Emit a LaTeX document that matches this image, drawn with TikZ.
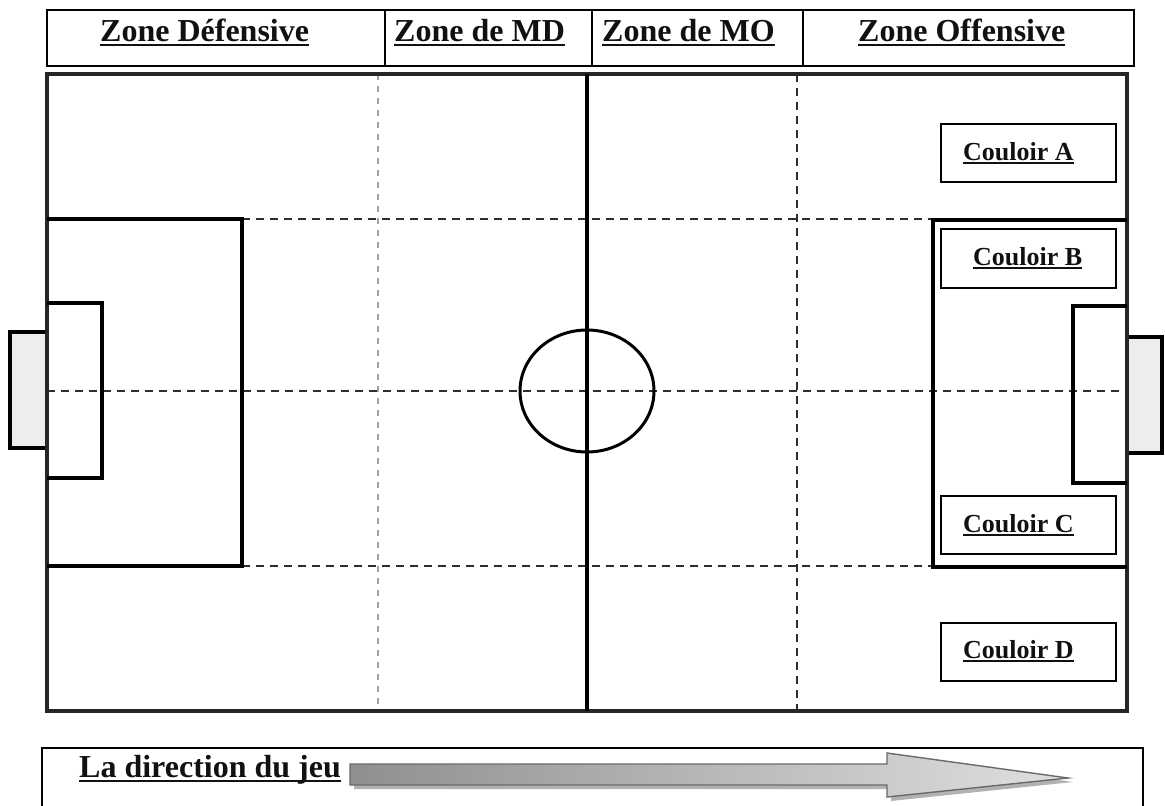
\documentclass[tikz,border=0pt]{standalone}
\usepackage{fontspec}
\setmainfont{Liberation Serif}
\usepackage{xcolor}
\usepackage{tikz}
\usetikzlibrary{positioning,calc}
\definecolor{ink}{HTML}{111111}
\definecolor{pitch}{HTML}{262626}
\definecolor{dsh}{HTML}{2E2E2E}
\definecolor{dshL}{HTML}{A0A0A0}
\definecolor{goalL}{HTML}{EDEDED}
\definecolor{arrD}{HTML}{6A6A6A}
\definecolor{arrL}{HTML}{D8D8D8}
\newcommand\ulb[1]{\setbox0=\hbox{#1}\rlap{\rule[-0.165em]{\wd0}{0.085em}}\box0}
\tikzset{
  field/.style ={draw=pitch, line width=3.6pt},
  midl/.style  ={draw=black, line width=4.6pt},
  pline/.style ={draw=black, line width=3.6pt},
  ring/.style  ={draw=black, line width=3pt},
  dline/.style ={draw=dsh, line width=1.8pt, dash pattern=on 8pt off 6pt},
  dlineL/.style={draw=dshL, line width=1.5pt, dash pattern=on 6pt off 6pt},
  cell/.style  ={draw=black, line width=2.5pt},
  lane/.style  ={draw=black, line width=2pt},
  hdr/.style   ={font=\fontsize{32}{36}\selectfont\bfseries, text=ink, inner sep=0pt, anchor=base west},
  lbl/.style   ={font=\fontsize{26}{30}\selectfont\bfseries, text=ink, inner sep=0pt, anchor=base west},
}
\begin{document}
\begin{tikzpicture}[x=1pt,y=-1pt]
  \useasboundingbox (0,0) rectangle (1165,806);
  % header
  \draw[cell] (47,10) rectangle (1134,66);
  \foreach \xx in {385,592,803} \draw[cell] (\xx,10) -- (\xx,66);
  \node[hdr] (zdef) at (100,41) {\ulb{Zone Défensive}};
  \node[hdr] (zmd)  at (394,41) {\ulb{Zone de MD}};
  \node[hdr] (zmo)  at (602,41) {\ulb{Zone de MO}};
  \node[hdr] (zoff) at (858,41) {\ulb{Zone Offensive}};
  % zones and lanes
  \draw[dlineL] (378,74) -- (378,711);
  \draw[dline] (797,74) -- (797,711);
  \draw[dline] (242,219) -- (933,219);
  \draw[dline] (47,391) -- (1127,391);
  \draw[dline] (242,566) -- (933,566);
  % goals
  \draw[pline, fill=goalL] (10,332) rectangle (47,448);
  \draw[pline, fill=goalL] (1127,337) rectangle (1162,453);
  % pitch
  \draw[field] (47,74) rectangle (1127,711);
  \draw[midl] (587,74) -- (587,711);
  \draw[ring] (587,391) ellipse [x radius=67, y radius=61];
  \draw[pline] (47,219) -- (242,219) -- (242,566) -- (47,566);
  \draw[pline] (47,303) -- (102,303) -- (102,478) -- (47,478);
  \draw[pline] (1127,220) -- (933,220) -- (933,567) -- (1127,567);
  \draw[pline] (1127,306) -- (1073,306) -- (1073,483) -- (1127,483);
  % couloirs
  \draw[lane] (941,124) rectangle (1116,182);
  \draw[lane] (941,229) rectangle (1116,288);
  \draw[lane] (941,496) rectangle (1116,554);
  \draw[lane] (941,623) rectangle (1116,681);
  \node[lbl] (cA) at (963,160) {\ulb{Couloir A}};
  \node[lbl] (cB) at (973,265) {\ulb{Couloir B}};
  \node[lbl] (cC) at (963,532) {\ulb{Couloir C}};
  \node[lbl] (cD) at (963,658) {\ulb{Couloir D}};
  % direction
  \draw[cell] (42,812) -- (42,748) -- (1143,748) -- (1143,812);
  \node[hdr] (dir) at (79,777) {\ulb{La direction du jeu}};
  \fill[black!30] (354,768) -- (891,768) -- (891,757) -- (1073,782) -- (891,801) -- (891,789) -- (354,789) -- cycle;
  \draw[draw=arrD, line width=1.4pt, left color=arrD!75, right color=arrL!80]
    (350,764) -- (887,764) -- (887,753) -- (1068,778) -- (887,797) -- (887,785) -- (350,785) -- cycle;
\end{tikzpicture}
\end{document}
